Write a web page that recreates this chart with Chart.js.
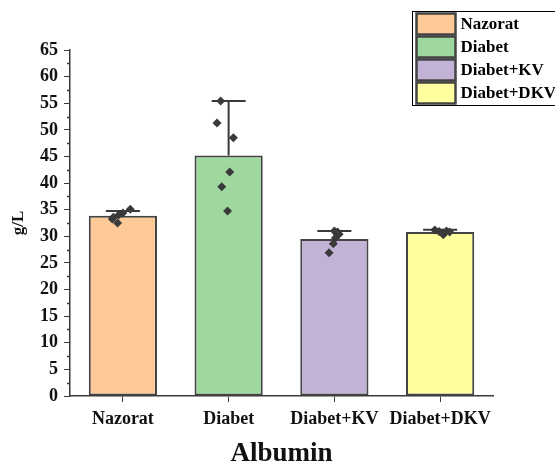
<!DOCTYPE html>
<html>
<head>
<meta charset="utf-8">
<script src="https://cdn.jsdelivr.net/npm/chart.js@4.4.1/dist/chart.umd.min.js"></script>
<style>
  html, body { margin: 0; padding: 0; background: #fff; }
  #wrap { width: 555px; height: 463px; position: relative; }
</style>
</head>
<body>
<div id="wrap"><canvas id="c" width="555" height="463"></canvas></div>
<script>
const groups = ['Nazorat', 'Diabet', 'Diabet+KV', 'Diabet+DKV'];
const means = [33.85, 45.2, 29.5, 30.8];
const sds = [0.9, 10.2, 1.5, 0.45];
const colors = ['#FFC997', '#9ED89E', '#C2B2D6', '#FFFF9F'];
// individual measurements per group, with a small horizontal jitter (category units)
const pointsNazorat = [35.1, 34.4, 34.0, 33.6, 33.25, 32.5];
const pointsDiabet = [55.4, 51.3, 48.5, 42.1, 39.3, 34.75];
const pointsKV = [31.0, 30.8, 30.4, 29.7, 28.6, 26.9];
const pointsDKV = [31.2, 30.9, 30.3, 31.0, 30.8, 30.6];
const jitterNazorat = [0.07, 0.0, -0.04, -0.09, -0.1, -0.05];
const jitterDiabet = [-0.075, -0.11, 0.045, 0.01, -0.065, -0.01];
const jitterKV = [0.0, 0.03, 0.045, 0.01, -0.01, -0.05];
const jitterDKV = [-0.05, -0.01, 0.03, 0.06, 0.09, 0.02];
const yTicks = { min: 0, max: 65, step: 5 };
const xTitle = 'Albumin';
const yTitle = 'g/L';

const FONT = '"Liberation Serif", "Times New Roman", serif';
const INK = '#3a3a3a';

const allPoints = [pointsNazorat, pointsDiabet, pointsKV, pointsDKV];
const allJitter = [jitterNazorat, jitterDiabet, jitterKV, jitterDKV];
const scatterData = [];
allPoints.forEach((arr, g) => {
  arr.forEach((v, k) => scatterData.push({ x: g + allJitter[g][k], y: v }));
});

const extras = {
  id: 'extras',
  afterDatasetDraw(chart, args) {
    if (args.index !== 0) return;
    const ctx = chart.ctx;
    const xs = chart.scales.x, ys = chart.scales.y;
    ctx.save();
    ctx.strokeStyle = INK;
    ctx.lineWidth = 2;
    means.forEach((m, i) => {
      const x = xs.getPixelForValue(i);
      const y0 = ys.getPixelForValue(m);
      const y1 = ys.getPixelForValue(m + sds[i]);
      ctx.beginPath();
      ctx.moveTo(x, y0);
      ctx.lineTo(x, y1);
      ctx.moveTo(x - 17, y1);
      ctx.lineTo(x + 17, y1);
      ctx.stroke();
    });
    ctx.restore();
  },
  afterDraw(chart) {
    const ctx = chart.ctx;
    const ys = chart.scales.y;
    const area = chart.chartArea;
    ctx.save();
    // minor ticks on y axis
    ctx.strokeStyle = INK;
    ctx.lineWidth = 1.5;
    for (let v = yTicks.min + yTicks.step / 2; v < yTicks.max; v += yTicks.step) {
      const y = Math.round(ys.getPixelForValue(v)) + 0.5;
      ctx.beginPath();
      ctx.moveTo(area.left, y);
      ctx.lineTo(area.left - 3, y);
      ctx.stroke();
    }
    // legend
    const lx = 412.5, ly = 11.5, pitch = 23;
    ctx.strokeStyle = '#000';
    ctx.lineWidth = 1;
    ctx.fillStyle = '#fff';
    ctx.fillRect(lx, ly, 160, 94);
    ctx.strokeRect(lx, ly, 160, 94);
    ctx.font = 'bold 17px ' + FONT;
    ctx.textBaseline = 'middle';
    groups.forEach((g, i) => {
      const sy = ly + 2 + i * pitch;
      ctx.fillStyle = colors[i];
      ctx.fillRect(lx + 4, sy, 39, 21);
      ctx.strokeStyle = '#444';
      ctx.lineWidth = 2.5;
      ctx.strokeRect(lx + 4, sy, 39, 21);
      ctx.fillStyle = '#000';
      ctx.fillText(g, lx + 48, sy + 11);
    });
    ctx.restore();
  }
};

new Chart(document.getElementById('c'), {
  type: 'bar',
  data: {
    labels: groups,
    datasets: [
      {
        type: 'bar',
        data: means,
        backgroundColor: colors,
        borderColor: '#444',
        borderWidth: 2,
        borderSkipped: false,
        grouped: false,
        barPercentage: 0.645,
        categoryPercentage: 1,
        order: 2
      },
      {
        type: 'scatter',
        data: scatterData,
        xAxisID: 'x2',
        pointStyle: 'rectRot',
        radius: 4.5,
        backgroundColor: INK,
        borderColor: INK,
        borderWidth: 0,
        order: 1
      }
    ]
  },
  options: {
    responsive: false,
    animation: false,
    layout: { padding: { top: 50, right: 62, left: 0, bottom: 0 } },
    plugins: { legend: { display: false }, tooltip: { enabled: false } },
    scales: {
      x: {
        type: 'category',
        offset: true,
        afterFit: s => { s.height = 67; },
        border: { display: true, color: INK, width: 1.5 },
        grid: { display: true, drawOnChartArea: false, drawTicks: true, tickLength: 6, color: INK, offset: false },
        ticks: { color: '#111', padding: 7, maxRotation: 0, minRotation: 0, autoSkip: false, font: { family: FONT, size: 18, weight: 'bold' } },
        title: { display: true, text: xTitle, color: '#111', padding: { top: 0, bottom: -7 }, font: { family: FONT, size: 27, weight: 'bold' } }
      },
      x2: {
        type: 'linear',
        display: false,
        offset: false,
        grace: 0,
        min: -0.5,
        max: groups.length - 0.5
      },
      y: {
        min: yTicks.min,
        max: yTicks.max,
        afterFit: s => { s.width = 70; },
        border: { display: true, color: INK, width: 1.5 },
        grid: { display: true, drawOnChartArea: false, drawTicks: true, tickLength: 6, color: INK },
        ticks: { stepSize: yTicks.step, color: '#111', padding: 6, font: { family: FONT, size: 18, weight: 'bold' } },
        title: { display: true, text: yTitle, color: '#111', padding: { top: 8, bottom: 0 }, font: { family: FONT, size: 17, weight: 'bold' } }
      }
    }
  },
  plugins: [extras]
});
</script>
</body>
</html>
